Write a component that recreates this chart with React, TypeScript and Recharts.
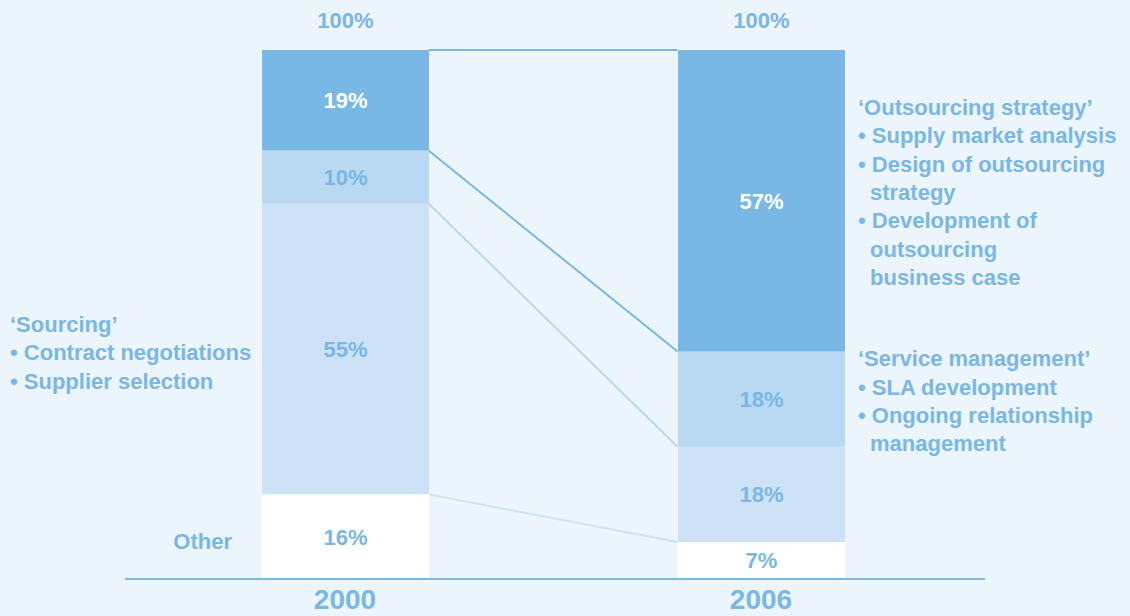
import React from "react";
import * as R from "recharts";
import { ComposedChart, Bar, XAxis, YAxis, LabelList, Customized } from "recharts";

const years = ["2000", "2006"];
const strategy = [19, 57];
const service = [10, 18];
const sourcing = [55, 18];
const other = [16, 7];

const strategyNotes = [
  "‘Outsourcing strategy’",
  "• Supply market analysis",
  "• Design of outsourcing",
  "  strategy",
  "• Development of",
  "  outsourcing",
  "  business case",
];
const serviceNotes = [
  "‘Service management’",
  "• SLA development",
  "• Ongoing relationship",
  "  management",
];
const sourcingNotes = ["‘Sourcing’", "• Contract negotiations", "• Supplier selection"];
const otherNote = "Other";

const data = years.map((year, i) => ({
  year,
  other: other[i],
  sourcing: sourcing[i],
  service: service[i],
  strategy: strategy[i],
  total: other[i] + sourcing[i] + service[i] + strategy[i],
}));

const W = 1130;
const H = 616;
const MARGIN = { top: 50, right: 145, bottom: 0, left: 125 };
const AXIS_H = 37;
const PAD_L = 12;
const PAD_R = 16;
const BAR = 167;

const BG = "#ECF4FC";
const DARK = "#79B7E5";
const MID = "#B9D8F2";
const LIGHT = "#CDE2F5";
const FONT = "'Liberation Sans', Arial, Helvetica, sans-serif";
const LINE_H = 28.4;

function box(p: any) {
  const v = p.viewBox || {};
  return {
    x: p.x ?? v.x,
    y: p.y ?? v.y,
    width: p.width ?? v.width,
    height: p.height ?? v.height,
  };
}

const valueLabel = (color: string) => (p: any) => {
  const { x, y, width, height } = box(p);
  return (
    <text
      x={x + width / 2}
      y={y + height / 2 + 8}
      textAnchor="middle"
      fill={color}
      fontSize={22}
      fontWeight="bold"
      fontFamily={FONT}
    >
      {p.value}%
    </text>
  );
};

const totalLabel = (p: any) => {
  const { x, y, width } = box(p);
  return (
    <text x={x + width / 2} y={y - 22} textAnchor="middle" fill={DARK} fontSize={22} fontWeight="bold" fontFamily={FONT}>
      {p.value}%
    </text>
  );
};

// text block beside one segment; lines starting with two spaces are indented
const notes = (lines: string[], at: number, side: "left" | "right", dy: number) => (p: any) => {
  if (p.index !== at) return null;
  const { x, y, width, height } = box(p);
  const left = side === "right" ? x + width + 13 : x - 252;
  const first = y + height / 2 + dy;
  return (
    <text fill={DARK} fontSize={22} fontWeight="bold" fontFamily={FONT}>
      {lines.map((l, k) => (
        <tspan key={k} x={l.startsWith("  ") ? left + 12 : left} y={first + k * LINE_H}>
          {l.trim()}
        </tspan>
      ))}
    </text>
  );
};

const otherLabel = (p: any) => {
  if (p.index !== 0) return null;
  const { x, y, height } = box(p);
  return (
    <text x={x - 30} y={y + height / 2 + 12} textAnchor="end" fill={DARK} fontSize={22} fontWeight="bold" fontFamily={FONT}>
      {otherNote}
    </text>
  );
};

function YearTick({ x, payload }: any) {
  // keep the year just inside the bottom edge
  return (
    <text x={x} y={H - 7} textAnchor="middle" fill={DARK} fontSize={28} fontWeight="bold" fontFamily={FONT}>
      {payload.value}
    </text>
  );
}

// lines joining the segment boundaries of the two bars
function Connectors() {
  const hooks: any = R;
  const area = hooks.usePlotArea ? hooks.usePlotArea() : null;
  const plot = area || {
    x: MARGIN.left,
    y: MARGIN.top,
    width: W - MARGIN.left - MARGIN.right,
    height: H - MARGIN.top - MARGIN.bottom - AXIS_H,
  };
  const band = (plot.width - PAD_L - PAD_R) / years.length;
  const left = (i: number) => plot.x + PAD_L + i * band + (band - BAR) / 2;
  const yOf = (v: number) => plot.y + plot.height * (1 - v / 100);
  const bounds = [
    { key: "other", color: LIGHT, val: (i: number) => other[i] },
    { key: "sourcing", color: MID, val: (i: number) => other[i] + sourcing[i] },
    { key: "service", color: DARK, val: (i: number) => other[i] + sourcing[i] + service[i] },
    { key: "top", color: DARK, val: (i: number) => data[i].total },
  ];
  return (
    <g>
      {bounds.map((b) => (
        <line
          key={b.key}
          x1={left(0) + BAR}
          y1={yOf(b.val(0))}
          x2={left(1)}
          y2={yOf(b.val(1))}
          stroke={b.color}
          strokeWidth={2}
        />
      ))}
    </g>
  );
}

export default function App() {
  return (
    <div style={{ position: "absolute", left: 0, top: 0, width: W, height: H, background: BG }}>
      <ComposedChart width={W} height={H} data={data} margin={MARGIN}>
        <XAxis
          dataKey="year"
          padding={{ left: PAD_L, right: PAD_R }}
          tickLine={false}
          axisLine={{ stroke: DARK, strokeWidth: 2 }}
          tick={<YearTick />}
          height={AXIS_H}
        />
        <YAxis hide type="number" domain={[0, 100]} />
        <Customized component={Connectors} />
        <Bar dataKey="other" stackId="a" fill="#FFFFFF" barSize={BAR} isAnimationActive={false}>
          <LabelList dataKey="other" content={valueLabel(DARK)} />
          <LabelList dataKey="other" content={otherLabel} />
        </Bar>
        <Bar dataKey="sourcing" stackId="a" fill={LIGHT} barSize={BAR} isAnimationActive={false}>
          <LabelList dataKey="sourcing" content={valueLabel(DARK)} />
          <LabelList dataKey="sourcing" content={notes(sourcingNotes, 0, "left", -17)} />
        </Bar>
        <Bar dataKey="service" stackId="a" fill={MID} barSize={BAR} isAnimationActive={false}>
          <LabelList dataKey="service" content={valueLabel(DARK)} />
          <LabelList dataKey="service" content={notes(serviceNotes, 1, "right", -33)} />
        </Bar>
        <Bar dataKey="strategy" stackId="a" fill={DARK} barSize={BAR} isAnimationActive={false}>
          <LabelList dataKey="strategy" content={valueLabel("#FFFFFF")} />
          <LabelList dataKey="total" content={totalLabel} />
          <LabelList dataKey="strategy" content={notes(strategyNotes, 1, "right", -86)} />
        </Bar>
      </ComposedChart>
    </div>
  );
}
